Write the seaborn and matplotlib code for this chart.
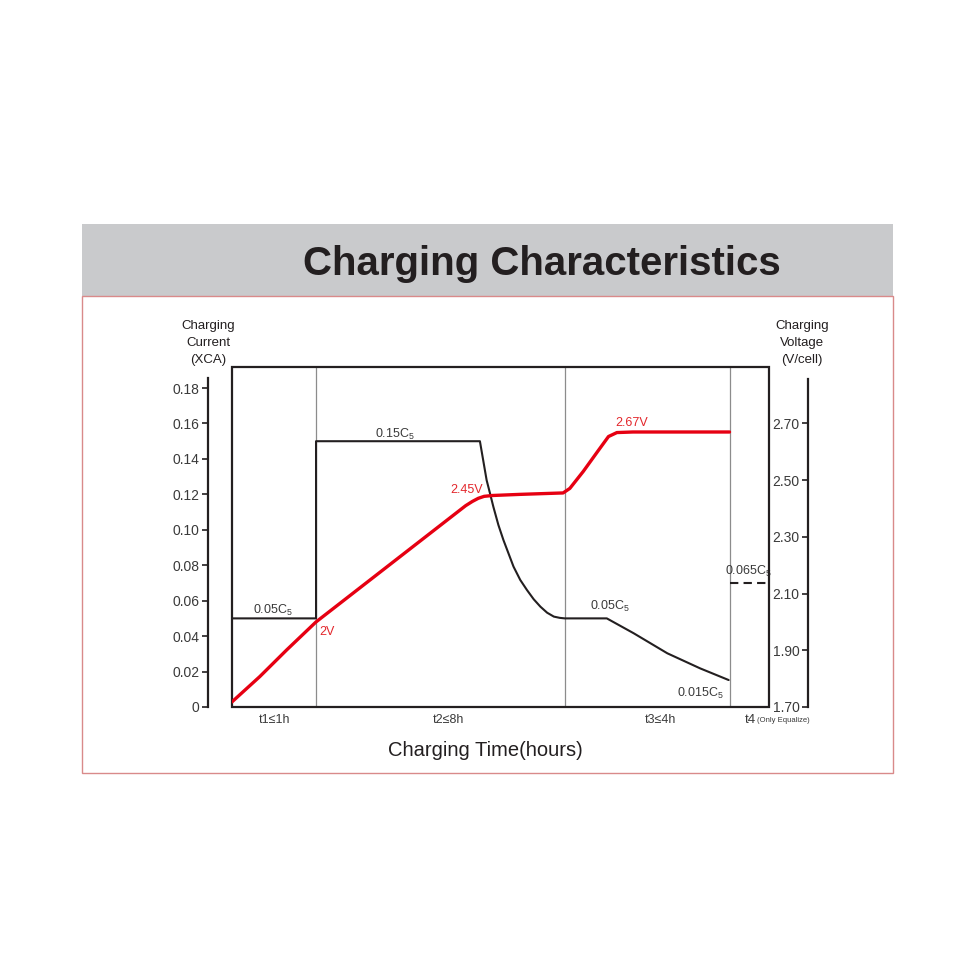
import matplotlib
matplotlib.use('Agg')
import matplotlib.pyplot as plt
from matplotlib.patches import Rectangle
import seaborn as sns

# time axis is in arbitrary units where phase t1 = 1
phase_edges = [0, 1.0, 3.96, 5.92, 6.39]
phase_labels = ['t1≤1h', 't2≤8h', 't3≤4h']
phase_label_x = [0.5, 2.58, 5.10]

# charging current (xCA)
cur_x = [0, 1.0, 1.0, 2.95, 2.99, 3.03, 3.07, 3.11, 3.17, 3.23, 3.29, 3.35, 3.43, 3.51,
         3.59, 3.67, 3.75, 3.83, 3.90, 3.96, 4.46, 4.78, 5.18, 5.57, 5.91]
cur_y = [0.05, 0.05, 0.15, 0.15, 0.139, 0.128, 0.1206, 0.113, 0.1027, 0.0942, 0.0867, 0.0792, 0.0717, 0.066,
         0.0608, 0.0566, 0.0532, 0.051, 0.0503, 0.05, 0.05, 0.0416, 0.0303, 0.0218, 0.0152]

# equalize current (dashed, t4 only)
eq_x = [5.92, 6.39]
eq_y = [0.07, 0.07]

# charging voltage (V/cell)
volt_x = [0, 0.33, 0.65, 1.0, 2.78, 2.86, 2.93, 3.0, 3.1, 3.43, 3.94, 4.02, 4.18, 4.35, 4.48, 4.58, 4.77, 5.92]
volt_y = [1.718, 1.807, 1.901, 2.0, 2.410, 2.425, 2.436, 2.443, 2.446, 2.450, 2.455, 2.471, 2.531, 2.601,
          2.654, 2.668, 2.670, 2.670]

cur_ticks = [0, 0.02, 0.04, 0.06, 0.08, 0.10, 0.12, 0.14, 0.16, 0.18]
cur_ticklabels = ['0', '0.02', '0.04', '0.06', '0.08', '0.10', '0.12', '0.14', '0.16', '0.18']
volt_ticks = [1.70, 1.90, 2.10, 2.30, 2.50, 2.70]
volt_ticklabels = ['1.70', '1.90', '2.10', '2.30', '2.50', '2.70']

sns.set_theme(style='white')
plt.rcParams['font.family'] = ['Liberation Sans', 'DejaVu Sans']
plt.rcParams['mathtext.default'] = 'regular'

BLACK = '#231f20'
RED = '#e60012'
TXT = '#3a3a3a'

fig = plt.figure(figsize=(9.8, 9.8), dpi=100)

# header band and red frame (behind the axes)
fig.patches.append(Rectangle((82/980, 0.698), 811/980, 0.0734, transform=fig.transFigure,
                             facecolor='#c9cacc', edgecolor='none', zorder=-5))
fig.patches.append(Rectangle((82/980, 0.2112), 811/980, 0.4867, transform=fig.transFigure,
                             facecolor='none', edgecolor='#d98a8a', lw=1.0, zorder=-5))
fig.text(0.553, 0.7194, 'Charging Characteristics', ha='center', va='baseline',
         fontsize=29, fontweight='bold', color=BLACK)

ax = fig.add_axes([232/980, 0.2786, 537/980, 340/980])
ax.patch.set_alpha(0)
sns.lineplot(x=cur_x, y=cur_y, ax=ax, color=BLACK, lw=1.5, sort=False, estimator=None)
sns.lineplot(x=eq_x, y=eq_y, ax=ax, color=BLACK, lw=1.5, sort=False, estimator=None,
             linestyle=(0, (4, 2.5)))
for xe in phase_edges[1:-1]:
    ax.axvline(xe, color='#8c8c8c', lw=0.9, zorder=1)
ax.set_xlim(phase_edges[0], phase_edges[-1])
ax.set_ylim(0, 0.1919)
ax.set_xticks([])
ax.set_xlabel('')
ax.set_ylabel('')
for s in ['top', 'right', 'bottom']:
    ax.spines[s].set_visible(False)
ax.spines['left'].set_position(('axes', -24/537))
ax.spines['left'].set_bounds(0, 0.1857)
ax.spines['left'].set_color(BLACK)
ax.spines['left'].set_linewidth(1.6)
ax.set_yticks(cur_ticks)
ax.set_yticklabels(cur_ticklabels)
ax.tick_params(axis='y', direction='out', length=4.5, width=1.2, color=BLACK,
               labelsize=10, labelcolor=TXT, pad=1.5, left=True)
ax.add_patch(Rectangle((0, 0), 1, 1, transform=ax.transAxes, fill=False, ec=BLACK, lw=1.6,
                       clip_on=False, zorder=6))

axr = ax.twinx()
sns.lineplot(x=volt_x, y=volt_y, ax=axr, color=RED, lw=2.4, sort=False, estimator=None)
axr.set_ylim(1.70, 1.70 + 0.1919 * 6.25)
axr.set_xlim(phase_edges[0], phase_edges[-1])
axr.set_ylabel('')
for s in ['top', 'right', 'bottom']:
    axr.spines[s].set_visible(False)
axr.spines['left'].set_visible(True)
axr.spines['left'].set_position(('axes', (808 - 232) / 537))
axr.spines['left'].set_bounds(1.70, 2.858)
axr.spines['left'].set_color(BLACK)
axr.spines['left'].set_linewidth(1.6)
axr.yaxis.set_ticks_position('left')
axr.yaxis.set_label_position('left')
axr.set_yticks(volt_ticks)
axr.set_yticklabels(volt_ticklabels)
axr.tick_params(axis='y', direction='out', length=4.5, width=1.2, color=BLACK,
                labelsize=10, labelcolor=TXT, pad=1.5, left=True)

# annotations
ann = dict(fontsize=9, color=TXT, ha='center', va='center')
ax.text(0.49, 0.0547, '0.05C$_{5}$', **ann)
ax.text(1.94, 0.154, '0.15C$_{5}$', **ann)
ax.text(4.50, 0.0570, '0.05C$_{5}$', **ann)
ax.text(5.57, 0.0079, '0.015C$_{5}$', **ann)
ax.text(6.14, 0.0767, '0.065C$_{5}$', **ann)
red_ann = dict(fontsize=9, color='#e3262b', ha='center', va='center')
ax.text(2.79, 0.1225, '2.45V', **red_ann)
ax.text(1.13, 0.0423, '2V', **red_ann)
ax.text(4.76, 0.1600, '2.67V', **red_ann)

# phase labels under the frame
xt = ax.get_xaxis_transform()
for lab, xl in zip(phase_labels, phase_label_x):
    ax.text(xl, -0.038, lab, transform=xt, ha='center', va='center', fontsize=9, color=TXT)
ax.text(6.17, -0.038, 't4', transform=xt, ha='center', va='center', fontsize=9.5, color=TXT)
ax.text(6.25, -0.040, '(Only Equalize)', transform=xt, ha='left', va='center', fontsize=5.5, color=TXT)

fig.text(0.495, 0.2286, 'Charging Time(hours)', ha='center', va='baseline', fontsize=14.5,
         color=BLACK)
fig.text(208/980, 0.65, 'Charging\nCurrent\n(XCA)', ha='center', va='center', fontsize=9.5,
         color=BLACK, linespacing=1.5)
fig.text(802/980, 0.65, 'Charging\nVoltage\n(V/cell)', ha='center', va='center', fontsize=9.5,
         color=BLACK, linespacing=1.5)

fig.savefig('out.png', dpi=100, facecolor='white')
